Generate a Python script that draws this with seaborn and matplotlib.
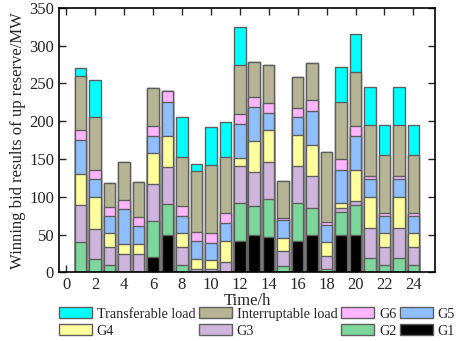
import numpy as np
import matplotlib
matplotlib.use('Agg')
import matplotlib.pyplot as plt
from matplotlib.patches import Patch
import seaborn as sns

# hourly winning bids of up reserve (MW)
hours = list(range(1, 25))
g1 = [0, 0, 0, 0, 0, 21, 50, 0, 0, 0, 0, 41, 50, 47, 0, 41, 50, 0, 50, 50, 0, 0, 0, 0]
g2 = [40, 18, 10, 0, 0, 47, 40, 10, 0, 0, 0, 51, 38, 50, 8, 51, 35, 5, 30, 39, 19, 10, 19, 10]
g3 = [49, 40, 24, 25, 25, 49, 49, 24, 5, 5, 14, 49, 45, 49, 20, 49, 43, 17, 5, 6, 40, 24, 40, 24]
g4 = [41, 42, 18, 13, 13, 41, 41, 18, 13, 11, 28, 11, 41, 42, 18, 41, 41, 18, 7, 41, 41, 18, 41, 18]
g5 = [45, 23, 23, 46, 23, 23, 45, 23, 23, 23, 23, 45, 45, 23, 23, 23, 45, 23, 44, 45, 24, 23, 24, 23]
g6 = [13, 13, 12, 12, 13, 13, 15, 13, 13, 13, 13, 13, 13, 13, 3, 13, 14, 4, 14, 13, 3, 3, 3, 3]
interruptable = [72, 69, 31, 50, 46, 50, 0, 65, 80, 90, 75, 65, 46, 50, 49, 40, 49, 92, 76, 71, 68, 77, 68, 77]
transferable = [10, 50, 0, 0, 0, 0, 0, 53, 10, 50, 46, 50, 0, 0, 0, 0, 0, 0, 46, 50, 50, 40, 50, 40]

layers = [g1, g2, g3, g4, g5, g6, interruptable, transferable]
names = ['G1', 'G2', 'G3', 'G4', 'G5', 'G6', 'Interruptable load', 'Transferable load']
colors = ['#000000', '#7dd69b', '#cfb5dd', '#ffff9e', '#8fbfff', '#ffb5ff', '#b5b596', '#00ffff']
edge = '#5f5f5f'

sns.set_style('ticks')
plt.rcParams['font.family'] = ['Liberation Serif', 'DejaVu Serif']
plt.rcParams['font.size'] = 11

fig, ax = plt.subplots(figsize=(4.57, 3.41), dpi=100)
fig.subplots_adjust(left=0.129, right=0.952, bottom=0.201, top=0.977)

# stacked bars: draw cumulative totals from the top layer down
cum = np.cumsum(np.array(layers), axis=0)
for i in range(len(layers) - 1, -1, -1):
    sns.barplot(x=hours, y=cum[i], native_scale=True, color=colors[i], saturation=1,
                edgecolor=edge, linewidth=1, width=0.8, errorbar=None, ax=ax)

ax.set_xlim(-0.5, 25.5)
ax.set_ylim(0, 350)
ax.set_xticks(range(0, 25, 2))
ax.set_yticks(range(0, 351, 50))
ax.tick_params(direction='in', top=True, right=True, length=5, width=1, labelsize=12)
for s in ax.spines.values():
    s.set_linewidth(1.2)
    s.set_color('black')
ax.set_xlabel('Time/h', fontsize=12, labelpad=0)
ax.set_ylabel('Winning bid results of up reserve/MW', fontsize=12, labelpad=2)

# legend laid out row by row (matplotlib fills columns first)
idx = [7, 3, 6, 2, 5, 1, 4, 0]
handles = [Patch(facecolor=colors[i], edgecolor=edge, label=names[i]) for i in idx]
fig.legend(handles=handles, loc='upper left', bbox_to_anchor=(59 / 457, 1 - 307 / 341),
           ncol=4, frameon=False, borderpad=0, borderaxespad=0, handlelength=2.3,
           handleheight=0.85, handletextpad=0.35, columnspacing=0.28, labelspacing=0.25,
           fontsize=10.2)

fig.savefig('out.png', dpi=100)
